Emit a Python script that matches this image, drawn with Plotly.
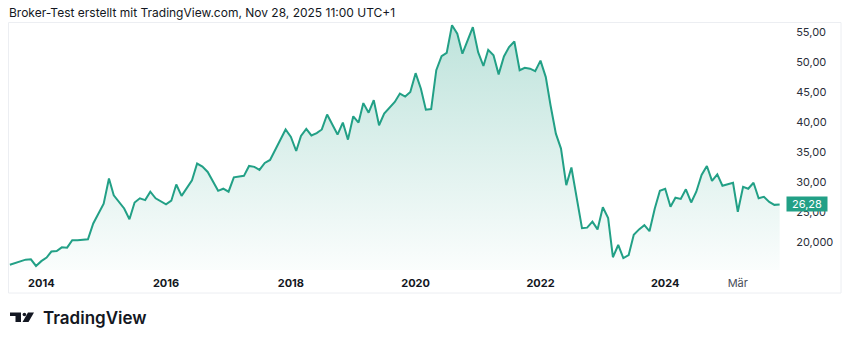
import plotly.graph_objects as go

# ---- data ----
dates = ["2013-07","2013-09","2013-10","2013-11","2013-12","2014-01","2014-02","2014-03","2014-04","2014-05",
         "2014-06","2014-07","2014-08","2014-10","2014-11","2015-01","2015-02","2015-03","2015-05","2015-06",
         "2015-07","2015-08","2015-09","2015-10","2015-11","2016-01","2016-02","2016-03","2016-04","2016-06",
         "2016-07","2016-08","2016-09","2016-11","2016-12","2017-01","2017-02","2017-04","2017-05","2017-06",
         "2017-07","2017-08","2017-09","2017-12","2018-01","2018-02","2018-03","2018-04","2018-05","2018-06",
         "2018-07","2018-08","2018-09","2018-10","2018-11","2018-12","2019-01","2019-02","2019-03","2019-04",
         "2019-05","2019-06","2019-07","2019-09","2019-10","2019-11","2019-12","2020-01","2020-02","2020-03",
         "2020-04","2020-05","2020-06","2020-07","2020-08","2020-09","2020-10","2020-11","2020-12","2021-01",
         "2021-02","2021-03","2021-04","2021-05","2021-06","2021-07","2021-08","2021-09","2021-10","2021-11",
         "2021-12","2022-01","2022-02","2022-03","2022-04","2022-05","2022-06","2022-07","2022-08","2022-09",
         "2022-10","2022-11","2022-12","2023-01","2023-02","2023-03","2023-04","2023-05","2023-06","2023-07",
         "2023-08","2023-09","2023-10","2023-11","2023-12","2024-01","2024-02","2024-03","2024-04","2024-05",
         "2024-06","2024-07","2024-08","2024-09","2024-10","2024-11","2024-12","2025-01","2025-02","2025-03",
         "2025-04","2025-05","2025-06","2025-07","2025-08","2025-09","2025-10","2025-11"]
prices = [16.2,16.8,17.05,17.1,16.0,16.8,17.4,18.4,18.5,19.1,
          19.05,20.3,20.3,20.45,23.1,26.4,30.6,27.8,25.6,23.8,
          26.6,27.3,27.0,28.4,27.3,26.3,26.9,29.6,27.7,30.3,
          33.1,32.6,31.7,28.55,28.9,28.4,30.8,31.05,32.7,32.55,
          32.05,33.2,33.7,38.8,37.55,35.2,37.7,38.9,37.8,38.2,
          38.8,41.3,39.5,37.95,39.95,37.1,41.0,39.95,43.2,41.6,
          43.7,39.5,41.45,43.4,44.8,44.3,45.05,48.2,45.6,42.1,
          42.2,48.7,51.05,51.6,56.2,54.8,51.45,53.7,55.9,51.7,
          49.4,52.1,51.2,48.0,51.0,52.55,53.5,48.7,49.1,48.95,
          48.55,50.3,47.55,42.8,38.1,35.6,29.5,32.45,27.0,22.3,
          22.4,23.4,22.1,25.8,24.0,17.45,19.5,17.3,17.8,21.2,
          22.1,22.8,21.8,25.6,28.55,28.9,25.9,27.4,27.2,28.8,
          26.6,28.4,31.2,32.7,30.2,31.3,29.4,29.6,29.9,25.05,
          29.2,28.9,29.9,27.3,27.55,26.7,26.2,26.28]
last_price_label = "26,28"

x_tickvals = ["2014-01-01","2016-01-01","2018-01-01","2020-01-01","2022-01-01","2024-01-01","2025-03-01"]
x_ticktext = ["<b>2014</b>","<b>2016</b>","<b>2018</b>","<b>2020</b>","<b>2022</b>","<b>2024</b>",
              "<span style='color:#4a4e59'>Mär</span>"]
y_tickvals = [20, 25, 30, 35, 40, 45, 50, 55]
y_ticktext = ["20,000", "25,00", "30,00", "35,00", "40,00", "45,00", "50,00", "55,00"]
title_text = "Broker-Test erstellt mit TradingView.com, Nov 28, 2025 11:00 UTC+1"

# ---- style ----
W, H = 850, 344
L, R, T, B = 8, 780, 22, 270
Y_MIN, Y_MAX = 15.32, 56.75
LINE = "#22a086"
FONT = "Inter, Roboto, 'Noto Sans', sans-serif"

def px(X):
    return (X - L) / (R - L)

def py(Y):
    return (B - Y) / (B - T)

fig = go.Figure()
fig.add_trace(go.Scatter(
    x=dates, y=prices, mode="lines",
    line=dict(color=LINE, width=2),
    fill="tozeroy",
    fillgradient=dict(type="vertical", start=Y_MIN, stop=Y_MAX,
                      colorscale=[[0, "rgba(34,160,134,0.02)"], [1, "rgba(34,160,134,0.30)"]]),
    hoverinfo="skip", showlegend=False,
))

shapes = [
    dict(type="rect", xref="paper", yref="paper", x0=px(8.5), x1=px(841), y0=py(293), y1=py(22.5),
         line=dict(color="#eceef2", width=1), fillcolor="rgba(0,0,0,0)", layer="below"),
]

def path(pts):
    return "M " + " L ".join(f"{px(a)} {py(b)}" for a, b in pts) + " Z"

shapes.append(dict(type="path", xref="paper", yref="paper",
                   path=path([(10, 312.5), (21, 312.5), (21, 322), (15.5, 322), (15.5, 316), (10, 316)]),
                   fillcolor="#131722", line=dict(width=0)))
shapes.append(dict(type="circle", xref="paper", yref="paper",
                   x0=px(22.6), x1=px(26.2), y0=py(316.3), y1=py(312.7),
                   fillcolor="#131722", line=dict(width=0)))
shapes.append(dict(type="path", xref="paper", yref="paper",
                   path=path([(28, 312.5), (34, 312.5), (28.5, 322), (22.5, 322)]),
                   fillcolor="#131722", line=dict(width=0)))

annotations = [
    dict(text=title_text, xref="paper", yref="paper", x=px(7), y=py(12), xanchor="left", yanchor="middle",
         showarrow=False, font=dict(family=FONT, size=12, color="#131722")),
    dict(text="TradingView", xref="paper", yref="paper", x=px(41), y=py(318), xanchor="left", yanchor="middle",
         showarrow=False, font=dict(family=FONT, size=17, color="#131722", weight=600)),
    dict(text=last_price_label, xref="paper", yref="y", x=px(786), y=prices[-1], xanchor="left", yanchor="middle",
         showarrow=False, bgcolor=LINE, width=38, height=12, borderpad=1,
         font=dict(family=FONT, size=11, color="#ffffff")),
]

fig.update_layout(
    width=W, height=H,
    margin=dict(l=L, r=W - R, t=T, b=H - B),
    paper_bgcolor="#ffffff", plot_bgcolor="#ffffff",
    shapes=shapes, annotations=annotations,
    xaxis=dict(type="date", range=["2013-06-20", "2025-11-03"], tickvals=x_tickvals, ticktext=x_ticktext,
               showgrid=False, zeroline=False, showline=False, ticks="outside", ticklen=3,
               tickcolor="rgba(0,0,0,0)", tickfont=dict(family=FONT, size=11, color="#131722")),
    yaxis=dict(side="right", range=[Y_MIN, Y_MAX], tickvals=y_tickvals, ticktext=y_ticktext,
               showgrid=False, zeroline=False, showline=False, ticks="outside", ticklen=13,
               tickcolor="rgba(0,0,0,0)", tickfont=dict(family=FONT, size=11, color="#2a2e39")),
)

fig.write_html("out.html")
